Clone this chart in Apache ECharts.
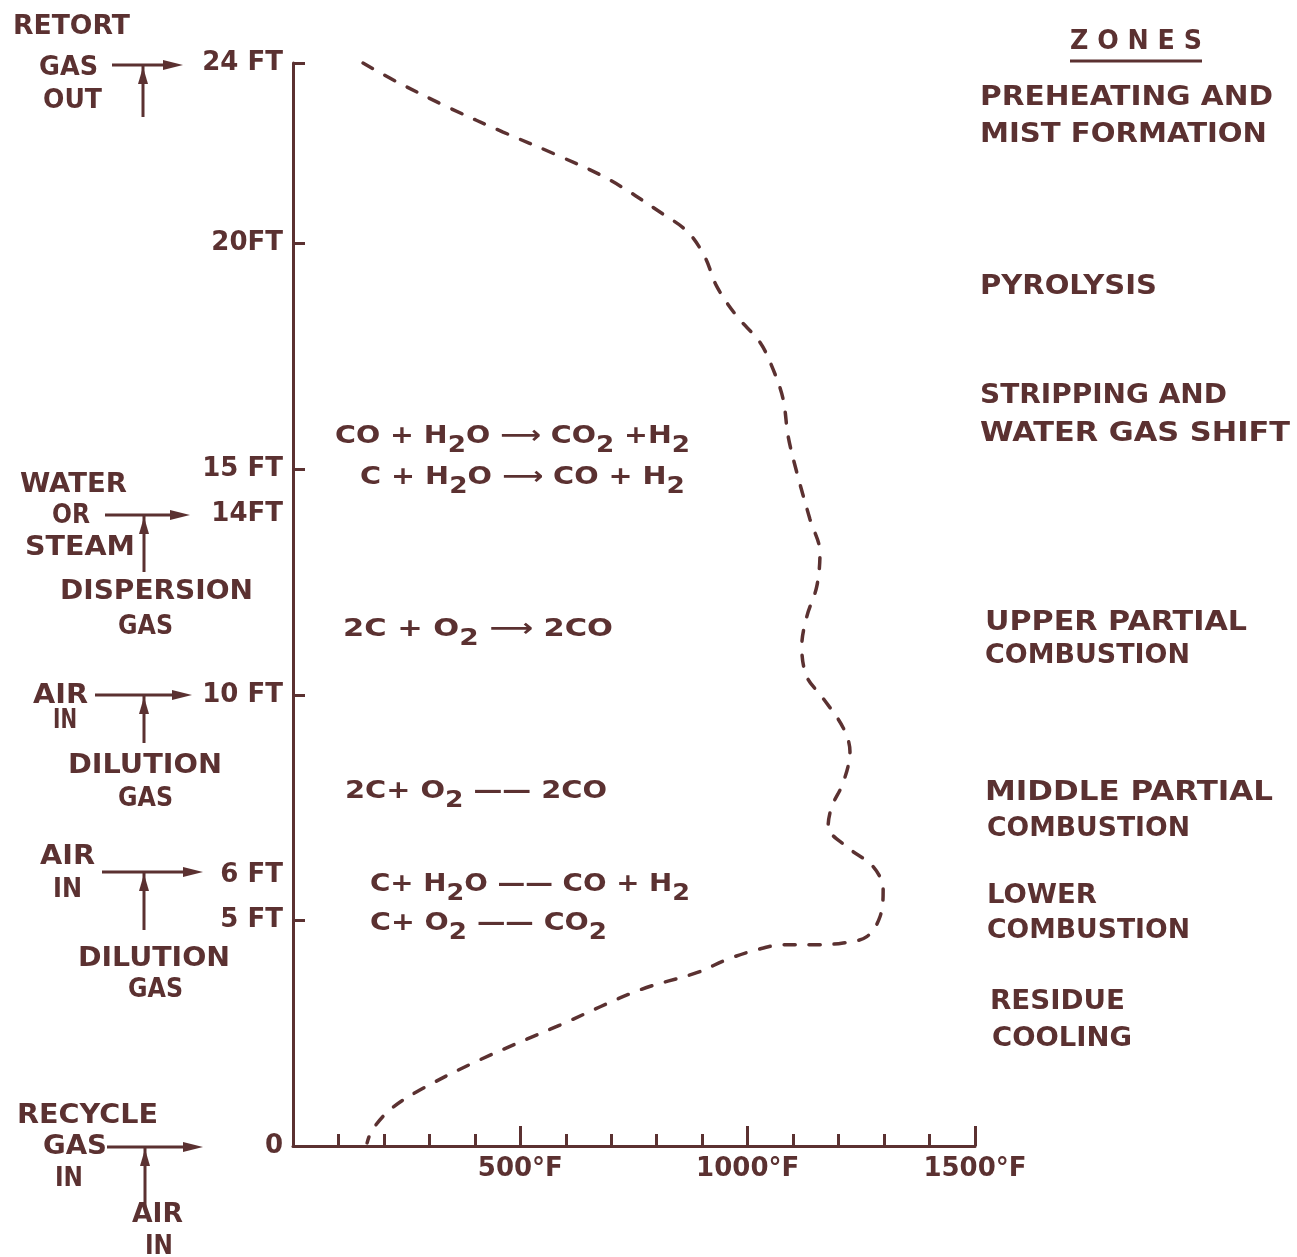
<!DOCTYPE html>
<html>
<head>
<meta charset="utf-8">
<script src="https://cdn.jsdelivr.net/npm/echarts@6.0.0/dist/echarts.min.js"></script>
<style>
html, body { margin: 0; padding: 0; background: #fff; }
#container { width: 1297px; height: 1257px; }
</style>
</head>
<body>
<div id="container"></div>
<script>
var INK = '#5b3131';
var FONT = 'DejaVu Sans';

// temperature profile along the retort
var tempF = [154, 229, 345, 462, 576, 693, 814, 869, 906, 932, 976, 1027, 1056, 1078, 1089, 1108, 1137, 1159, 1152, 1130,
    1119, 1130, 1163, 1210, 1225, 1210, 1185, 1177, 1218, 1276, 1298, 1291, 1262, 1210, 1152, 1078, 1020, 954, 888, 763,
    587, 411, 279, 213, 174, 163];
var heightFt = [24.0, 23.58, 23.0, 22.47, 21.98, 21.43, 20.65, 20.25, 19.7, 19.05, 18.39, 17.81, 17.21, 16.55, 15.73, 14.93, 13.89, 13.15, 12.4, 11.73,
    11.07, 10.4, 9.96, 9.27, 8.74, 8.05, 7.52, 7.08, 6.63, 6.19, 5.68, 5.08, 4.64, 4.5, 4.46, 4.46, 4.35, 4.13, 3.84, 3.46,
    2.68, 1.91, 1.24, 0.8, 0.35, 0.07];

var yLabelValues = [0, 5, 6, 10, 14, 15, 20, 24];
var yLabelText = ['0', '5 FT', '6 FT', '10 FT', '14FT', '15 FT', '20FT', '24 FT'];
var yTickValues = [5, 10, 15, 20, 24];
var xLabelValues = [500, 1000, 1500];
var xLabelText = ['500°F', '1000°F', '1500°F'];

var dom = document.getElementById('container');
var myChart = echarts.init(dom);

var ctx = document.createElement('canvas').getContext('2d');
function fontStr(size) {
    return 'bold ' + size + 'px "' + FONT + '"';
}
function measure(s, size) {
    ctx.font = fontStr(size);
    return ctx.measureText(s).width;
}

// plain text stretched to sit between x1 and x2, centred on yc
function label(s, x1, x2, yc, size) {
    size = size || 26;
    var w = measure(s, size);
    return {
        type: 'text', x: x1, y: yc + 2, scaleX: (x2 - x1) / w, silent: true,
        style: { text: s, fill: INK, font: fontStr(size), align: 'left', verticalAlign: 'middle' }
    };
}

// chemical equation, parts in [] are subscripts
function equation(parts, x1, x2, yc) {
    var text = '', w = 0;
    parts.forEach(function (p) {
        if (Array.isArray(p)) {
            text += '{s|' + p[0] + '}';
            w += measure(p[0], 23);
        } else {
            text += '{m|' + p + '}';
            w += measure(p, 25);
        }
    });
    return {
        type: 'text', x: x1, y: yc + 2, scaleX: (x2 - x1) / w, silent: true,
        style: {
            text: text, fill: INK, align: 'left', verticalAlign: 'middle',
            rich: {
                m: { fontSize: 25, fontWeight: 'bold', fontFamily: FONT, fill: INK, lineHeight: 28 },
                s: { fontSize: 23, fontWeight: 'bold', fontFamily: FONT, fill: INK, lineHeight: 28, padding: [20, 0, 0, 0] }
            }
        }
    };
}

// feed arrow: horizontal into the retort, vertical branch from below
function teeArrow(x1, x2, y, xv, yb) {
    return [
        { type: 'line', silent: true, shape: { x1: x1, y1: y, x2: x2 - 10, y2: y }, style: { stroke: INK, lineWidth: 3 } },
        { type: 'polygon', silent: true, shape: { points: [[x2, y], [x2 - 20, y - 5], [x2 - 20, y + 5]] }, style: { fill: INK } },
        { type: 'line', silent: true, shape: { x1: xv, y1: y, x2: xv, y2: yb }, style: { stroke: INK, lineWidth: 3 } },
        { type: 'polygon', silent: true, shape: { points: [[xv, y + 2], [xv - 5, y + 19], [xv + 5, y + 19]] }, style: { fill: INK } }
    ];
}

var graphics = [
    label('RETORT', 13, 130, 25),
    label('GAS', 39, 98, 66),
    label('OUT', 43, 102, 99),
    label('WATER', 20, 127, 483),
    label('OR', 52, 90, 514),
    label('STEAM', 25, 135, 546),
    label('DISPERSION', 60, 253, 590),
    label('GAS', 118, 173, 625),
    label('AIR', 33, 88, 694),
    label('IN', 53, 77, 719),
    label('DILUTION', 68, 222, 764),
    label('GAS', 118, 173, 797),
    label('AIR', 40, 95, 855),
    label('IN', 53, 82, 888),
    label('DILUTION', 78, 230, 957),
    label('GAS', 128, 183, 988),
    label('RECYCLE', 17, 158, 1114),
    label('GAS', 43, 107, 1145),
    label('IN', 55, 83, 1177),
    label('AIR', 132, 183, 1213),
    label('IN', 145, 173, 1245),

    label('Z O N E S', 1070, 1202, 40, 27),
    { type: 'line', silent: true, shape: { x1: 1070, y1: 61, x2: 1202, y2: 61 }, style: { stroke: INK, lineWidth: 3 } },
    label('PREHEATING AND', 980, 1273, 96),
    label('MIST FORMATION', 980, 1267, 133),
    label('PYROLYSIS', 980, 1157, 285),
    label('STRIPPING AND', 980, 1227, 394),
    label('WATER GAS SHIFT', 980, 1290, 432),
    label('UPPER PARTIAL', 985, 1247, 621),
    label('COMBUSTION', 985, 1190, 654),
    label('MIDDLE PARTIAL', 985, 1273, 791),
    label('COMBUSTION', 987, 1190, 827),
    label('LOWER', 987, 1097, 894),
    label('COMBUSTION', 987, 1190, 929),
    label('RESIDUE', 990, 1125, 1000),
    label('COOLING', 992, 1132, 1037),

    equation(['CO + H', ['2'], 'O ⟶ CO', ['2'], ' +H', ['2']], 335, 690, 434),
    equation(['C + H', ['2'], 'O ⟶ CO + H', ['2']], 360, 685, 475),
    equation(['2C + O', ['2'], ' ⟶ 2CO'], 343, 613, 627),
    equation(['2C+ O', ['2'], ' —— 2CO'], 345, 607, 789),
    equation(['C+ H', ['2'], 'O —— CO + H', ['2']], 370, 690, 882),
    equation(['C+ O', ['2'], ' —— CO', ['2']], 370, 607, 921)
];
graphics = graphics
    .concat(teeArrow(112, 183, 65, 143, 117))
    .concat(teeArrow(105, 190, 515, 144, 572))
    .concat(teeArrow(95, 192, 695, 144, 743))
    .concat(teeArrow(102, 203, 872, 144, 930))
    .concat(teeArrow(107, 203, 1147, 145, 1207));

var profile = tempF.map(function (t, i) { return [t, heightFt[i]]; });

option = {
    backgroundColor: '#ffffff',
    animation: false,
    textStyle: { fontFamily: FONT, fontWeight: 'bold', color: INK },
    grid: { left: 293, right: 322, top: 63, bottom: 111, containLabel: false, outerBoundsMode: 'none' },
    xAxis: {
        type: 'value',
        min: 0,
        max: 1500,
        interval: 500,
        splitLine: { show: false },
        axisLine: { show: true, onZero: false, lineStyle: { color: INK, width: 3 } },
        axisTick: { show: true, inside: true, length: 20, lineStyle: { color: INK, width: 3 } },
        minorTick: { show: true, splitNumber: 5, length: 12, lineStyle: { color: INK, width: 3 } },
        axisLabel: {
            margin: 10,
            color: INK,
            fontSize: 26,
            fontWeight: 'bold',
            fontFamily: FONT,
            formatter: function (v) {
                var i = xLabelValues.indexOf(v);
                return i < 0 ? '' : xLabelText[i];
            }
        }
    },
    yAxis: {
        type: 'value',
        min: 0,
        max: 24,
        splitLine: { show: false },
        axisLine: { show: true, onZero: false, lineStyle: { color: INK, width: 3 } },
        axisTick: { show: true, inside: true, length: 12, customValues: yTickValues, lineStyle: { color: INK, width: 3 } },
        axisLabel: {
            margin: 10,
            color: INK,
            fontSize: 26,
            fontWeight: 'bold',
            fontFamily: FONT,
            customValues: yLabelValues,
            formatter: function (v) {
                var i = yLabelValues.indexOf(v);
                return i < 0 ? '' : yLabelText[i];
            }
        }
    },
    series: [{
        type: 'line',
        data: profile,
        smooth: 0.35,
        symbol: 'none',
        clip: false,
        lineStyle: { color: INK, width: 3.5, type: [11, 14], cap: 'round' }
    }],
    graphic: graphics
};
myChart.setOption(option);

window.addEventListener('resize', function () {
    myChart.resize();
});
</script>
</body>
</html>
